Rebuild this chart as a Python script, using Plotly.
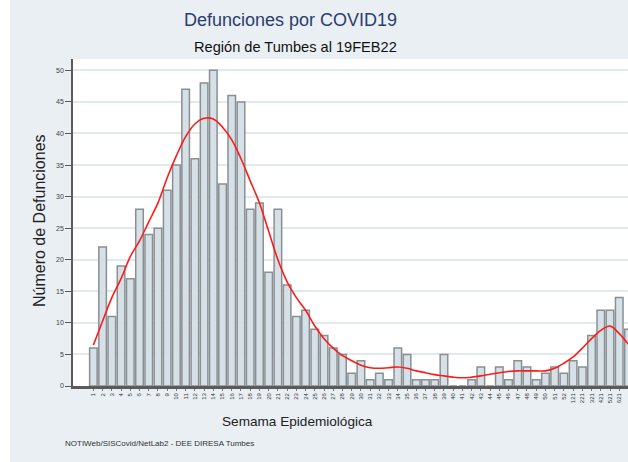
import plotly.graph_objects as go

# ---------------- data ----------------
week_labels = [str(i) for i in range(1, 53)] + ["121", "221", "321", "421", "521", "621", "721"]
deaths = [6, 22, 11, 19, 17, 28, 24, 25, 31, 35,
          47, 36, 48, 50, 32, 46, 45, 28, 29, 18,
          28, 16, 11, 12, 9, 8, 6, 5, 2, 4,
          1, 2, 1, 6, 5, 1, 1, 1, 5, 0,
          0, 1, 3, 0, 3, 1, 4, 3, 1, 2,
          3, 2, 4, 3, 8, 12, 12, 14, 9]
trend = [6.5, 10.3, 14, 17, 20.5, 23, 26, 29, 33, 36.5,
         39.5, 41.5, 42.4, 42.3, 41, 39, 36, 32.5, 29, 24.5,
         20, 16.5, 14, 12, 9.5, 7.5, 6, 4.8, 4, 3.3,
         2.9, 2.8, 2.9, 3.0, 2.8, 2.4, 2.1, 1.8, 1.6, 1.4,
         1.3, 1.4, 1.6, 1.85, 2.1, 2.3, 2.4, 2.4, 2.4, 2.4,
         2.8, 3.6, 4.6, 6.0, 7.5, 8.8, 9.5, 8.3, 6.6]
y_ticks = [0, 5, 10, 15, 20, 25, 30, 35, 40, 45, 50]

x = list(range(1, len(deaths) + 1))

BG = "#e9eff2"
SANS = "Liberation Sans, Arial, sans-serif"

fig = go.Figure()
fig.add_trace(go.Bar(
    x=x, y=deaths, width=0.82,
    marker=dict(color="#d5e0e7", line=dict(color="#8a8f92", width=1.5)),
    showlegend=False, hoverinfo="skip",
))
fig.add_trace(go.Scatter(
    x=x, y=trend, mode="lines", line=dict(color="#ff1a1a", width=1.6, shape="spline"),
    showlegend=False, hoverinfo="skip", cliponaxis=True,
))

fig.update_layout(
    width=628, height=462,
    margin=dict(l=73, r=0, t=59, b=76, pad=0),
    paper_bgcolor=BG, plot_bgcolor="white",
    xaxis=dict(
        range=[-1.21, 58.95], tickmode="array", tickvals=x, ticktext=week_labels,
        tickangle=-90, tickfont=dict(family=SANS, size=6, color="#333"),
        showgrid=False, showline=True, linecolor="#5a5a5a", linewidth=2.5,
        ticks="outside", ticklen=2, tickcolor="#777", tickwidth=0.5,
        zeroline=False, fixedrange=True,
    ),
    yaxis=dict(
        range=[0, 51.8], tickmode="array", tickvals=y_ticks,
        tickfont=dict(family=SANS, size=7, color="#444"),
        showgrid=True, gridcolor="#e0e9ee", gridwidth=1.5,
        showline=True, linecolor="#5a5a5a", linewidth=1.5,
        ticks="outside", ticklen=6, tickcolor="#5a5a5a", tickwidth=1,
        zeroline=False, fixedrange=True,
    ),
    shapes=[dict(type="rect", xref="paper", yref="paper",
                 x0=-0.2, x1=(10 - 73) / 555, y0=-0.3, y1=1.3,
                 fillcolor="white", line=dict(width=0), layer="above")],
    annotations=[
        dict(text="Defunciones por COVID19", xref="paper", yref="paper",
             x=(290 - 73) / 555, y=(386 - 20) / 327, xanchor="center", yanchor="middle",
             showarrow=False, font=dict(family=SANS, size=18, color="#2b3d70")),
        dict(text="Región de Tumbes al 19FEB22", xref="paper", yref="paper",
             x=(295 - 73) / 555, y=(386 - 47) / 327, xanchor="center", yanchor="middle",
             showarrow=False, font=dict(family=SANS, size=14.6, color="#111")),
        dict(text="Semama Epidemiológica", xref="paper", yref="paper",
             x=(297 - 73) / 555, y=(386 - 421.5) / 327, xanchor="center", yanchor="middle",
             showarrow=False, font=dict(family=SANS, size=13.6, color="#222")),
        dict(text="NOTIWeb/SISCovid/NetLab2 - DEE DIRESA Tumbes", xref="paper", yref="paper",
             x=(63 - 73) / 555, y=(386 - 443) / 327, xanchor="left", yanchor="middle",
             showarrow=False, font=dict(family=SANS, size=8, color="#333")),
        dict(text="Número de Defunciones", xref="paper", yref="paper",
             x=(39 - 73) / 555, y=(386 - 221) / 327, xanchor="center", yanchor="middle",
             textangle=-90, showarrow=False, font=dict(family=SANS, size=16, color="#222")),
    ],
)

fig.write_html("out.html", config={"displayModeBar": False},
               post_script="document.body.style.margin='0';")
